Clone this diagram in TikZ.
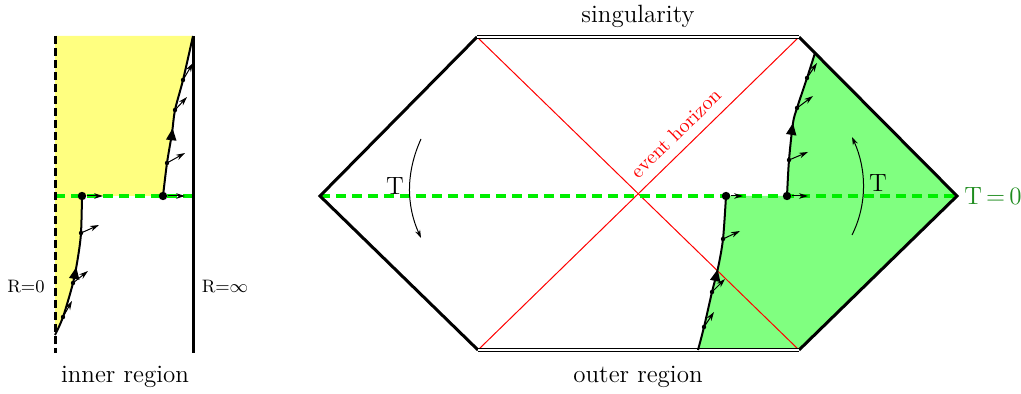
\documentclass[tikz,border=0pt]{standalone}
\usepackage{tikz}
\usetikzlibrary{arrows.meta, calc, decorations.markings}

\definecolor{innerfill}{HTML}{FFFF80}
\definecolor{outerfill}{HTML}{80FF80}
\definecolor{slicegreen}{HTML}{00EE00}
\definecolor{labelgreen}{HTML}{1E8C1E}

\tikzset{
	wall/.style={line width=1.5pt, black},
	horizon/.style={red, line width=0.5pt},
	slice/.style={slicegreen, line width=1.8pt, dash pattern=on 5pt off 3pt},
	sing/.style={double, double distance=1.2pt, line width=0.5pt},
	worldline/.style={line width=1pt, postaction={decorate},
		decoration={markings, mark=at position #1 with {\arrow{Triangle[length=6pt,width=5pt]}}}},
	vel/.style={line width=0.5pt, -{Stealth[length=4.5pt,width=2.8pt]}},
	bigdot/.style={circle, fill, inner sep=0pt, minimum size=4.2pt},
	smalldot/.style={circle, fill, inner sep=0pt, minimum size=2.2pt},
	flow/.style={line width=0.5pt, -{Stealth[length=4pt,width=2.6pt]}},
	lbl/.style={font=\fontsize{12.5}{15}\selectfont},
}

\begin{document}
\begin{tikzpicture}[x=0.5pt,y=-0.5pt]
	\useasboundingbox (0,0) rectangle (1021,394);

	% inner region
	\coordinate (rzerotop) at (55,36);
	\coordinate (rzerobot) at (55,353);
	\coordinate (rinftop) at (193,36);
	\coordinate (rinfbot) at (193,353);

	\fill[innerfill] (rzerotop) -- (rinftop)
		-- plot[smooth] coordinates {(193,36) (183,80) (175,110) (172,133) (167,163) (163,196)}
		-- (82,196)
		-- plot[smooth] coordinates {(82,196) (81,233) (78,257) (73,283) (63,317) (55,335)}
		-- cycle;

	\draw[slice] (55,196) -- (193,196);
	\draw[wall, dash pattern=on 4pt off 2pt] (rzerotop) -- (rzerobot);
	\draw[wall] (rinftop) -- (rinfbot);

	\draw[worldline=0.42] plot[smooth] coordinates {(163,196) (167,163) (172,133) (175,110) (183,80) (193,36)};
	\draw[worldline=0.5] plot[smooth] coordinates {(55,335) (63,317) (73,283) (78,257) (81,233) (82,196)};

	\node[font=\fontsize{9}{11}\selectfont] (rzero) at (26,287) {R=0};
	\node[font=\fontsize{9}{11}\selectfont] (rinf) at (225,287) {R=$\infty$};
	\node[lbl] (inner) at (125,377) {inner region};

	% Penrose diagram
	\coordinate (left) at (320,196);
	\coordinate (tl) at (477,37);
	\coordinate (bl) at (478,350);
	\coordinate (tr) at (799,37);
	\coordinate (br) at (799,350);
	\coordinate (right) at (957,196);

	\fill[outerfill] (698,350) -- (br) -- (right) -- (815,53)
		-- plot[smooth] coordinates {(815,53) (807,78) (797,108) (793,123) (789,160) (787,196)}
		-- (726,196)
		-- plot[smooth] coordinates {(726,196) (723,239) (718,268) (712,292) (704,327) (698,350)}
		-- cycle;

	\draw[horizon] (tl) -- (br);
	\draw[horizon] (bl) -- (tr) node[pos=0.653, sloped, above, yshift=1.5pt, font=\fontsize{10}{12}\selectfont] (eh) {event horizon};

	\draw[slice] (left) -- (right);
	\draw[wall] (tl) -- (left) -- (bl);
	\draw[wall] (tr) -- (right) -- (br);
	\draw[sing] (tl) -- (tr);
	\draw[sing] (bl) -- (br);

	\draw[worldline=0.5] plot[smooth] coordinates {(787,196) (789,160) (793,123) (797,108) (807,78) (815,53)};
	\draw[worldline=0.53] plot[smooth] coordinates {(698,350) (704,327) (712,292) (718,268) (723,239) (726,196)};

	\coordinate (ltop) at (421,139);
	\coordinate (lbot) at (421,238);
	\coordinate (rbot) at (852,235);
	\coordinate (rtop) at (852,137);
	\draw[flow] (ltop) .. controls (406,172) and (406,205) .. (lbot);
	\draw[flow] (rbot) .. controls (867,205) and (867,170) .. (rtop);

	\node[lbl] (tleft) at (395,186) {T};
	\node[lbl] (tright) at (878,183) {T};
	\node[lbl, labelgreen] (tzero) at (993,196) {T\,=\,0};
	\node[lbl] (singularity) at (638,16) {singularity};
	\node[lbl] (outer) at (638,377) {outer region};

	% velocity vectors
	\foreach \n/\x/\y/\u/\v in {1/82/196/103/196, 2/163/196/185/196, 3/726/196/743/196, 4/787/196/808/196}{
		\node[bigdot] (big\n) at (\x,\y) {};
		\coordinate (big\n tip) at (\u,\v);
		\draw[vel] (big\n) -- (big\n tip);
	}
	\foreach \n/\x/\y/\u/\v in {1/81/233/99/225, 2/73/283/88/271, 3/63/317/72/301, 4/167/163/185/153,
			5/175/110/187/97, 6/183/80/193/63, 7/789/160/808/152, 8/797/108/813/96, 9/807/78/817/63,
			10/723/239/740/231, 11/712/292/725/279, 12/704/327/714/312}{
		\node[smalldot] (dot\n) at (\x,\y) {};
		\coordinate (dot\n tip) at (\u,\v);
		\draw[vel] (dot\n.center) -- (dot\n tip);
	}
\end{tikzpicture}
\end{document}
